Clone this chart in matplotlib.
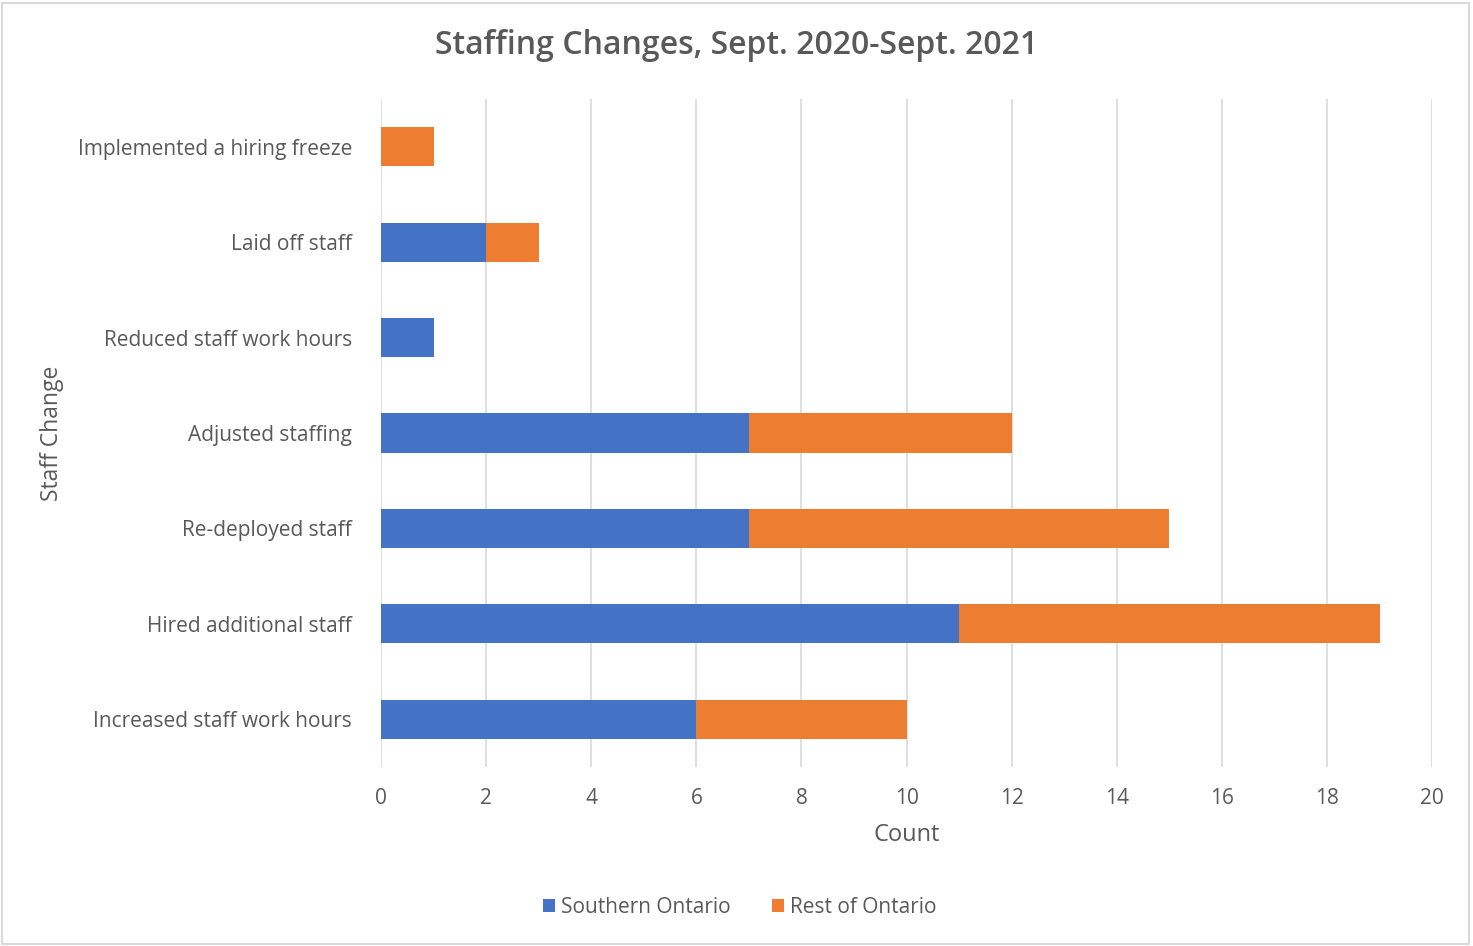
import numpy as np
import matplotlib.pyplot as plt
from matplotlib.patches import Rectangle

plt.rcParams['font.family'] = ['Open Sans', 'DejaVu Sans']

# Staffing changes, bottom to top
categorias = ['Increased staff work hours', 'Hired additional staff', 'Re-deployed staff',
              'Adjusted staffing', 'Reduced staff work hours', 'Laid off staff',
              'Implemented a hiring freeze']
sul = [6, 11, 7, 7, 1, 2, 0]
resto = [4, 8, 8, 5, 0, 1, 1]
ticks_x = [0, 2, 4, 6, 8, 10, 12, 14, 16, 18, 20]

cor_sul = '#4472C4'
cor_resto = '#ED7D31'
cinza = '#595959'

fig = plt.figure(figsize=(14.73, 9.46), dpi=100)
ax = fig.add_axes([0.2587, 0.1892, 0.7135, 0.7061])

y = np.arange(len(categorias))
ax.barh(y, sul, height=0.41, color=cor_sul, label='Southern Ontario', zorder=3)
ax.barh(y, resto, height=0.41, left=sul, color=cor_resto, label='Rest of Ontario', zorder=3)

ax.set_xlim(0, 20)
ax.set_ylim(-0.5, len(categorias) - 0.5)
ax.set_xticks(ticks_x)
ax.set_yticks(y)
ax.set_yticklabels(categorias)
ax.grid(axis='x', color='#D9D9D9', linewidth=1.2, zorder=0)
for s in ax.spines.values():
    s.set_visible(False)
ax.tick_params(axis='y', length=0, pad=21, labelsize=15, labelcolor=cinza)
ax.tick_params(axis='x', length=0, pad=15, labelsize=15, labelcolor=cinza)

ax.set_xlabel('Count', fontsize=17, color=cinza, labelpad=10)
ax.set_ylabel('Staff Change', fontsize=16.5, color=cinza, labelpad=0)
ax.yaxis.set_label_coords(-0.302, 0.5)

fig.text(0.5, 0.952, 'Staffing Changes, Sept. 2020-Sept. 2021', ha='center', va='center',
         fontsize=23, fontweight='semibold', color=cinza)

fig.legend(loc='center', bbox_to_anchor=(0.502, 0.041), ncol=2, frameon=False,
           fontsize=15, handlelength=0.6, handleheight=0.6, handletextpad=0.25,
           columnspacing=2.0, labelcolor=cinza)

# moldura clara em volta do gráfico
fig.patches.append(Rectangle((0.0015, 0.002), 0.996, 0.995, transform=fig.transFigure,
                             fill=False, edgecolor='#D9D9D9', linewidth=1.5))

fig.savefig('out.png', dpi=100)
